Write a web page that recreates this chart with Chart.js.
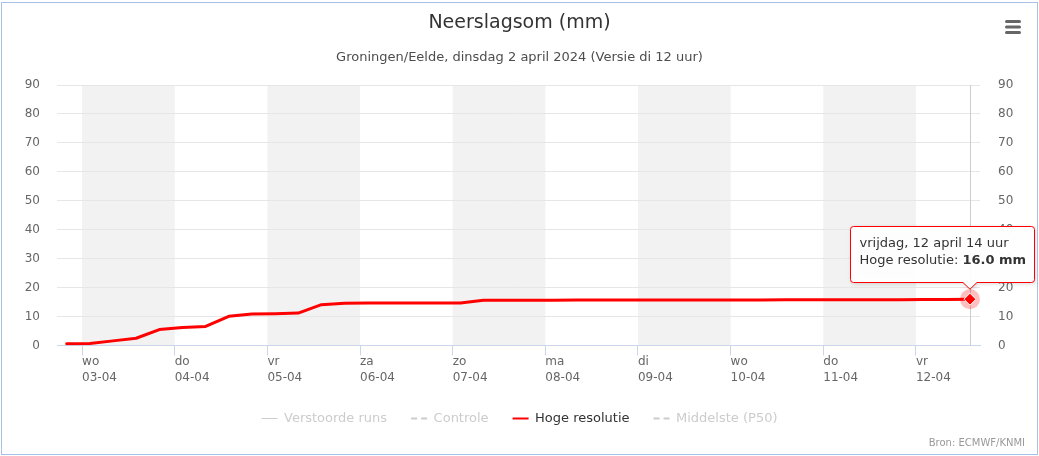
<!DOCTYPE html>
<html><head><meta charset="utf-8">
<script src="https://cdn.jsdelivr.net/npm/chart.js@4"></script>
<style>
html,body{margin:0;padding:0;background:#fff;overflow:hidden;}
#wrap{position:relative;width:1039px;height:456px;}
#frame{position:absolute;left:1px;top:2px;width:1037px;height:453px;border:1px solid #a9c1e6;box-sizing:border-box;pointer-events:none;}
canvas{display:block;}
</style></head><body>
<div id="wrap"><canvas id="c" width="1039" height="456"></canvas><div id="frame"></div></div>
<script>
const titleText = 'Neerslagsom (mm)';
const subtitleText = 'Groningen/Eelde, dinsdag 2 april 2024 (Versie di 12 uur)';
const creditText = 'Bron: ECMWF/KNMI';
const seriesNames = ['Verstoorde runs', 'Controle', 'Hoge resolutie', 'Middelste (P50)'];
// hours since wo 03-04 00:00
const timeHours = [-4, 2, 8, 14, 20, 26, 32, 38, 44, 50, 56, 62, 68, 74, 80, 86, 92, 98, 104, 110,
  116, 122, 128, 134, 140, 146, 152, 158, 164, 170, 176, 182, 188, 194, 200, 206, 212, 218, 224, 230];
const hogeResolutie = [0.6, 0.7, 1.6, 2.5, 5.5, 6.2, 6.6, 10.1, 10.9, 11.0, 11.2, 14.1, 14.6, 14.7, 14.7, 14.7, 14.7, 14.7, 15.6, 15.6,
  15.6, 15.6, 15.7, 15.7, 15.7, 15.7, 15.7, 15.7, 15.7, 15.7, 15.7, 15.8, 15.8, 15.8, 15.8, 15.8, 15.8, 15.9, 15.9, 16.0];
const dayTicks = [0, 24, 48, 72, 96, 120, 144, 168, 192, 216];
const dayNames = ['wo', 'do', 'vr', 'za', 'zo', 'ma', 'di', 'wo', 'do', 'vr'];
const dayDates = ['03-04', '04-04', '05-04', '06-04', '07-04', '08-04', '09-04', '10-04', '11-04', '12-04'];
const shadedDayStarts = [0, 48, 96, 144, 192];
const yTicks = [0, 10, 20, 30, 40, 50, 60, 70, 80, 90];
const tooltipTitle = 'vrijdag, 12 april 14 uur';
const tooltipUnit = 'mm';

const FONT = "'DejaVu Sans', sans-serif";
const X_MIN = -6.5, X_MAX = 232.6;

const legendStyles = [
  {color: '#cccccc', dash: [], width: 1, text: '#cccccc'},
  {color: '#cccccc', dash: [6, 4], width: 2, text: '#cccccc'},
  {color: '#ff0000', dash: [], width: 2, text: '#333333'},
  {color: '#cccccc', dash: [6, 4], width: 2, text: '#cccccc'}
];

const overlay = {
  id: 'overlay',
  beforeDraw(chart) {
    const {ctx, chartArea: a, scales: {x}} = chart;
    ctx.save();
    ctx.fillStyle = '#ffffff';
    ctx.fillRect(0, 0, chart.width, chart.height);
    ctx.fillStyle = '#f2f2f2';
    shadedDayStarts.forEach(h => {
      const x1 = x.getPixelForValue(h), x2 = x.getPixelForValue(h + 24);
      ctx.fillRect(x1, a.top, x2 - x1, a.bottom - a.top);
    });
    ctx.restore();
  },
  beforeDatasetsDraw(chart) {
    const {ctx, chartArea: a} = chart;
    const meta = chart.getDatasetMeta(2);
    const el = meta.data[meta.data.length - 1];
    ctx.save();
    ctx.strokeStyle = '#cccccc';
    ctx.lineWidth = 1;
    const cx = Math.round(el.x) + 0.5;
    ctx.beginPath(); ctx.moveTo(cx, a.top); ctx.lineTo(cx, a.bottom); ctx.stroke();
    ctx.restore();
  },
  afterDatasetsDraw(chart) {
    const {ctx} = chart;
    const meta = chart.getDatasetMeta(2);
    const el = meta.data[meta.data.length - 1];
    ctx.save();
    ctx.fillStyle = 'rgba(255,0,0,0.25)';
    ctx.beginPath(); ctx.arc(el.x, el.y, 10, 0, Math.PI * 2); ctx.fill();
    const r = 6;
    ctx.beginPath();
    ctx.moveTo(el.x, el.y - r); ctx.lineTo(el.x + r, el.y); ctx.lineTo(el.x, el.y + r); ctx.lineTo(el.x - r, el.y); ctx.closePath();
    ctx.fillStyle = '#ff0000'; ctx.fill();
    ctx.strokeStyle = '#ffffff'; ctx.lineWidth = 1; ctx.stroke();
    ctx.restore();
  },
  afterDraw(chart) {
    const {ctx} = chart;
    const meta = chart.getDatasetMeta(2);
    const last = meta.data.length - 1;
    const el = meta.data[last];
    // tooltip
    ctx.save();
    const l2a = seriesNames[2] + ': ';
    const l2b = hogeResolutie[last].toFixed(1) + ' ' + tooltipUnit;
    ctx.font = '13px ' + FONT;
    const w1 = ctx.measureText(tooltipTitle).width;
    const w2a = ctx.measureText(l2a).width;
    ctx.font = 'bold 13px ' + FONT;
    const w2b = ctx.measureText(l2b).width;
    const boxW = Math.round(Math.max(w1, w2a + w2b) + 17);
    const boxH = 56;
    const right = Math.min(chart.width - 4.5, Math.round(el.x + boxW / 2) + 0.5);
    const left = right - boxW;
    const bottom = Math.round(el.y - 17) + 0.5;
    const top = bottom - boxH;
    const tipX = el.x, tipY = el.y - 10;
    const rr = 3;
    const path = () => {
      ctx.beginPath();
      ctx.moveTo(left + rr, top);
      ctx.lineTo(right - rr, top);
      ctx.arcTo(right, top, right, top + rr, rr);
      ctx.lineTo(right, bottom - rr);
      ctx.arcTo(right, bottom, right - rr, bottom, rr);
      ctx.lineTo(tipX + 7, bottom);
      ctx.lineTo(tipX, tipY);
      ctx.lineTo(tipX - 7, bottom);
      ctx.lineTo(left + rr, bottom);
      ctx.arcTo(left, bottom, left, bottom - rr, rr);
      ctx.lineTo(left, top + rr);
      ctx.arcTo(left, top, left + rr, top, rr);
      ctx.closePath();
    };
    ctx.save();
    ctx.shadowColor = 'rgba(0,0,0,0.18)';
    ctx.shadowOffsetX = 1; ctx.shadowOffsetY = 1; ctx.shadowBlur = 4;
    path(); ctx.fillStyle = 'rgba(255,255,255,0.97)'; ctx.fill();
    ctx.restore();
    path(); ctx.strokeStyle = '#ff0000'; ctx.lineWidth = 1; ctx.stroke();
    ctx.fillStyle = '#333333';
    ctx.textBaseline = 'middle';
    ctx.textAlign = 'left';
    ctx.font = '13px ' + FONT;
    ctx.fillText(tooltipTitle, left + 9, top + 17.5);
    ctx.fillText(l2a, left + 9, top + 34);
    ctx.font = 'bold 13px ' + FONT;
    ctx.fillText(l2b, left + 9 + w2a, top + 34);
    ctx.restore();
    // context menu icon
    ctx.save();
    ctx.strokeStyle = '#666666'; ctx.lineWidth = 3; ctx.lineCap = 'round';
    [21.5, 27, 32.5].forEach(y => { ctx.beginPath(); ctx.moveTo(1006.5, y); ctx.lineTo(1019.5, y); ctx.stroke(); });
    ctx.restore();
    // credits
    ctx.save();
    ctx.font = '10px ' + FONT; ctx.fillStyle = '#999999'; ctx.textAlign = 'right'; ctx.textBaseline = 'alphabetic';
    ctx.fillText(creditText, 1025, 446);
    ctx.restore();
  }
};

const baseDs = {pointRadius: 0, tension: 0, fill: false};
const chart = new Chart(document.getElementById('c'), {
  type: 'line',
  data: {
    datasets: [
      Object.assign({label: seriesNames[0], data: [], hidden: true, borderColor: '#cccccc'}, baseDs),
      Object.assign({label: seriesNames[1], data: [], hidden: true, borderColor: '#cccccc', borderDash: [6, 4]}, baseDs),
      Object.assign({label: seriesNames[2], data: timeHours.map((h, i) => ({x: h, y: hogeResolutie[i]})),
        borderColor: '#ff0000', borderWidth: 3, borderJoinStyle: 'round', borderCapStyle: 'round'}, baseDs),
      Object.assign({label: seriesNames[3], data: [], hidden: true, borderColor: '#cccccc', borderDash: [6, 4]}, baseDs)
    ]
  },
  options: {
    responsive: false,
    animation: false,
    events: [],
    layout: {padding: {left: 0, right: 0, top: 0, bottom: 21}},
    plugins: {
      title: {display: true, text: titleText, color: '#333333', font: {family: FONT, size: 19, weight: 'normal', lineHeight: 1.2}, padding: {top: 12, bottom: 0}},
      subtitle: {display: true, text: subtitleText, color: '#4d4d4d', font: {family: FONT, size: 13, weight: 'normal', lineHeight: 1.2}, padding: {top: 15, bottom: 19.6}},
      legend: {
        position: 'bottom',
        labels: {
          usePointStyle: true, pointStyleWidth: 16, padding: 24,
          font: {family: FONT, size: 13},
          generateLabels: (ch) => ch.data.datasets.map((ds, i) => ({
            text: ds.label, datasetIndex: i, hidden: false,
            fontColor: legendStyles[i].text,
            strokeStyle: legendStyles[i].color, fillStyle: legendStyles[i].color,
            lineWidth: legendStyles[i].width, lineDash: legendStyles[i].dash,
            pointStyle: 'line'
          }))
        }
      },
      tooltip: {enabled: false}
    },
    scales: {
      x: {
        type: 'linear', min: X_MIN, max: X_MAX,
        afterBuildTicks: s => { s.ticks = dayTicks.map(v => ({value: v})); },
        afterFit: s => { s.height = 42.5; },
        grid: {drawOnChartArea: false, drawTicks: true, tickLength: 10, tickColor: '#ccd6eb', color: '#ccd6eb'},
        border: {display: true, color: '#ccd6eb'},
        ticks: {
          autoSkip: false, maxRotation: 0, minRotation: 0, align: 'start', padding: -2,
          color: '#666666', font: {family: FONT, size: 12, lineHeight: 1.375},
          callback: (v, i) => [dayNames[i], dayDates[i]]
        }
      },
      y: {
        position: 'left', min: 0, max: 90,
        afterBuildTicks: s => { s.ticks = yTicks.map(v => ({value: v})); },
        afterFit: s => { s.width = 57; },
        grid: {color: '#e6e6e6', drawTicks: false},
        border: {display: false},
        ticks: {padding: 17, color: '#666666', font: {family: FONT, size: 12}}
      },
      y2: {
        position: 'right', min: 0, max: 90,
        afterBuildTicks: s => { s.ticks = yTicks.map(v => ({value: v})); },
        afterFit: s => { s.width = 59; },
        grid: {display: false, drawTicks: false},
        border: {display: false},
        ticks: {padding: 18, color: '#666666', font: {family: FONT, size: 12}}
      }
    }
  },
  plugins: [overlay]
});
</script>
</body></html>
